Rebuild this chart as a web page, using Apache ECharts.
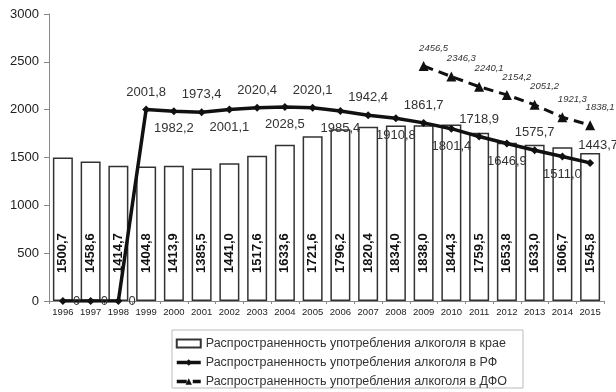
<!DOCTYPE html>
<html>
<head>
<meta charset="utf-8">
<script src="https://cdn.jsdelivr.net/npm/echarts@6/dist/echarts.min.js"></script>
<style>
  html, body { margin: 0; padding: 0; background: #fff; }
  #chart { width: 616px; height: 392px; }
</style>
</head>
<body>
<div id="chart"></div>
<script>
// Годы наблюдения
var years = ['1996','1997','1998','1999','2000','2001','2002','2003','2004','2005',
             '2006','2007','2008','2009','2010','2011','2012','2013','2014','2015'];

// Распространенность в крае (столбцы)
var kraiValues = [1500.7, 1458.6, 1414.7, 1404.8, 1413.9, 1385.5, 1441.0, 1517.6, 1633.6, 1721.6,
                  1796.2, 1820.4, 1834.0, 1838.0, 1844.3, 1759.5, 1653.8, 1633.0, 1606.7, 1545.8];

// Распространенность в РФ
var rfValues = [0, 0, 0, 2001.8, 1982.2, 1973.4, 2001.1, 2020.4, 2028.5, 2020.1,
                1985.4, 1942.4, 1910.8, 1861.7, 1801.4, 1718.9, 1646.9, 1575.7, 1511.0, 1443.7];

// Распространенность в ДФО (с 2009 года)
var dfoValues = [null, null, null, null, null, null, null, null, null, null,
                 null, null, null, 2456.5, 2346.3, 2240.1, 2154.2, 2051.2, 1921.3, 1838.1];

var seriesNames = [
  'Распространенность употребления алкоголя в крае',
  'Распространенность употребления алкоголя в РФ',
  'Распространенность употребления алкоголя в ДФО'
];

var yTicks = { min: 0, max: 3000, interval: 500 };

var FONT = '"Liberation Sans", Arial, sans-serif';

function fmt(v) {
  if (v === 0) return '0';
  return v.toFixed(1).replace('.', ',');
}

// Подписи линии РФ: нули справа, далее поочередно сверху и снизу
var rfData = rfValues.map(function (v, i) {
  var pos;
  if (v === 0) pos = 'right';
  else if (i === rfValues.length - 1) pos = 'top';
  else pos = ((i - 3) % 2 === 0) ? 'top' : 'bottom';
  return {
    value: v,
    label: { position: pos, distance: pos === 'right' ? 6 : 7, offset: i === rfValues.length - 1 ? [8, 0] : [0, 0] }
  };
});

var chart = echarts.init(document.getElementById('chart'), null, { renderer: 'canvas' });

chart.setOption({
  animation: false,
  backgroundColor: '#fff',
  textStyle: { fontFamily: FONT },
  grid: { left: 49, right: 12, top: 14, bottom: 91 },
  legend: {
    orient: 'vertical',
    left: 172,
    top: 330,
    itemGap: 6,
    itemWidth: 24,
    itemHeight: 8,
    padding: [7, 16, 0, 3],
    borderColor: '#bbb',
    borderWidth: 1,
    textStyle: { fontSize: 12.5, color: '#333', fontFamily: FONT },
    data: [
      { name: seriesNames[0], icon: 'rect' },
      { name: seriesNames[1], lineStyle: { width: 3.5 } },
      { name: seriesNames[2], lineStyle: { width: 3.5 } }
    ]
  },
  xAxis: {
    type: 'category',
    data: years,
    axisLine: { show: true, lineStyle: { color: '#888', width: 1 } },
    axisTick: { show: true, interval: 0, length: 3, lineStyle: { color: '#888' } },
    axisLabel: { interval: 0, fontSize: 9.5, color: '#222', margin: 6, fontFamily: FONT },
    splitLine: { show: false }
  },
  yAxis: {
    type: 'value',
    min: yTicks.min,
    max: yTicks.max,
    interval: yTicks.interval,
    axisLine: { show: true, lineStyle: { color: '#888', width: 1 } },
    axisTick: { show: true, length: 5, lineStyle: { color: '#888' } },
    axisLabel: {
      fontSize: 13, color: '#222', margin: 10, fontFamily: FONT,
      formatter: function (v) { return String(v); }
    },
    splitLine: { show: false }
  },
  series: [
    {
      name: seriesNames[0],
      type: 'bar',
      data: kraiValues,
      barWidth: 20,
      z: 1,
      itemStyle: { color: '#fff', borderColor: '#333', borderWidth: 1.5 },
      label: {
        show: true,
        position: 'insideBottom',
        distance: 28,
        rotate: 90,
        align: 'left',
        verticalAlign: 'middle',
        fontSize: 13,
        fontWeight: 'bold',
        color: '#111',
        fontFamily: FONT,
        formatter: function (p) { return fmt(p.value); }
      }
    },
    {
      name: seriesNames[1],
      type: 'line',
      data: rfData,
      z: 3,
      symbol: 'diamond',
      symbolSize: 8,
      lineStyle: { color: '#111', width: 3.5 },
      itemStyle: { color: '#111' },
      label: {
        show: true,
        fontSize: 13,
        color: '#333',
        fontFamily: FONT,
        formatter: function (p) { return fmt(p.value); }
      }
    },
    {
      name: seriesNames[2],
      type: 'line',
      data: dfoValues,
      z: 3,
      symbol: 'triangle',
      symbolSize: 10,
      lineStyle: { color: '#111', width: 3, type: [10, 6] },
      itemStyle: { color: '#111' },
      label: {
        show: true,
        position: 'top',
        distance: 8,
        offset: [10, 0],
        fontSize: 9.5,
        fontStyle: 'italic',
        color: '#333',
        fontFamily: FONT,
        formatter: function (p) { return p.value == null ? '' : fmt(p.value); }
      }
    }
  ]
});
</script>
</body>
</html>
